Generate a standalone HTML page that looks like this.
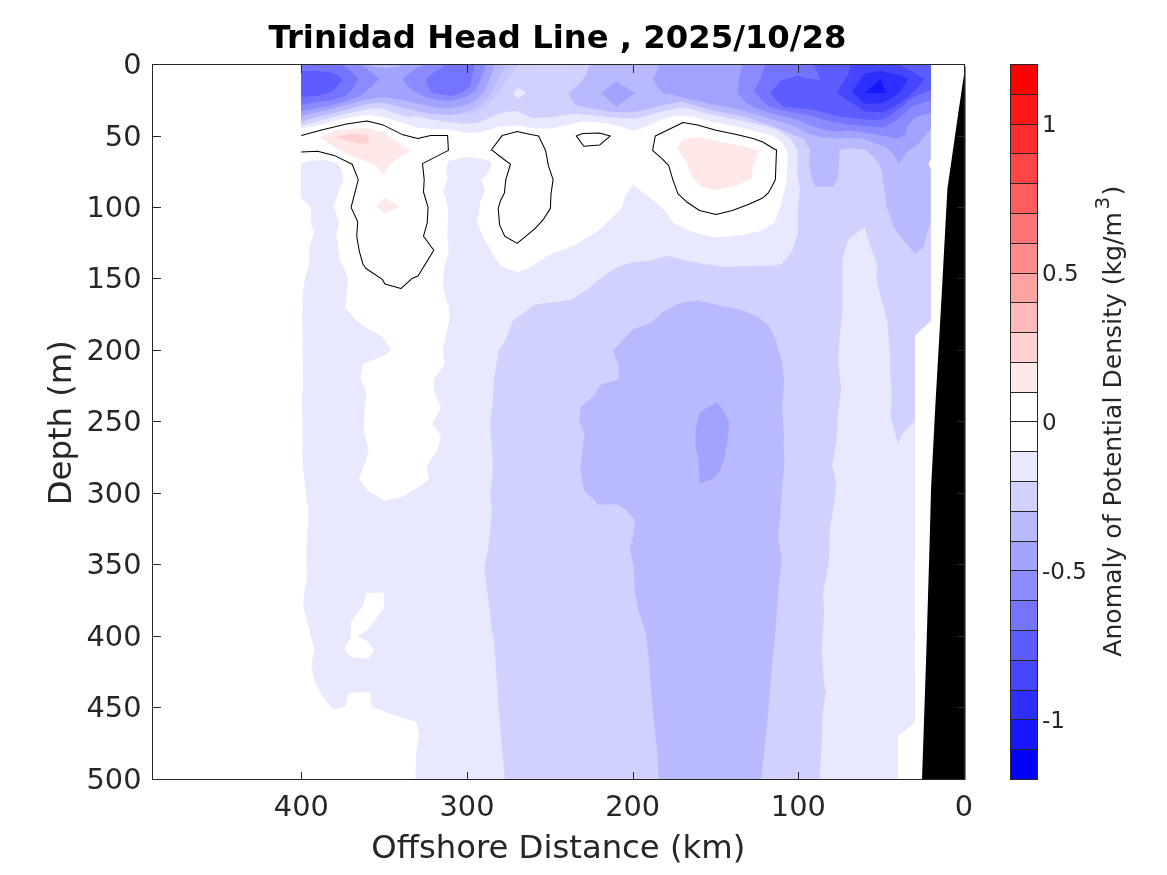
<!DOCTYPE html>
<html lang="en"><head><meta charset="utf-8"><title>Trinidad Head Line , 2025/10/28</title>
<style>html,body{margin:0;padding:0;background:#fff;overflow:hidden}svg{display:block}text{font-family:"DejaVu Sans","Liberation Sans",sans-serif;fill:#262626}</style></head><body>
<svg width="1167" height="875" viewBox="0 0 1167 875">
<rect width="1167" height="875" fill="#fff"/>
<defs><clipPath id="ax"><rect x="152.5" y="64.5" width="812.0" height="715.0"/></clipPath></defs>
<g clip-path="url(#ax)" shape-rendering="geometricPrecision">
<polygon points="301.0,64.0 931.0,64.0 931.0,320.8 915.0,335.7 915.0,722.0 898.0,735.4 898.0,780.0 301.0,780.0" fill="#d1d1ff"/>
<polygon points="301.0,125.8 316.6,121.7 332.0,117.6 347.4,113.5 361.8,110.4 373.0,108.3 383.4,108.8 398.8,114.5 409.1,117.6 416.3,116.0 431.7,119.6 447.1,121.7 462.6,123.8 478.0,122.7 488.3,118.6 498.5,113.5 508.8,111.4 517.1,110.9 524.2,114.5 532.5,118.1 546.8,117.6 559.2,116.0 567.4,114.5 577.7,114.0 588.0,115.0 598.3,116.0 608.5,117.1 618.8,118.1 636.3,118.6 646.6,116.0 662.0,111.4 672.3,109.4 682.6,107.3 692.8,109.4 703.1,112.4 713.4,115.0 728.8,118.1 746.0,121.7 760.0,125.1 776.5,129.3 790.8,138.5 798.0,150.8 798.0,150.8 797.0,171.4 800.1,189.9 798.0,206.4 798.0,233.1 791.9,251.6 781.6,264.0 768.2,266.4 760.0,266.0 775.0,265.0 748.9,266.0 726.3,267.0 703.6,264.0 683.1,259.8 666.6,255.7 650.2,260.9 633.7,261.9 617.3,267.0 602.9,276.3 588.5,288.6 571.0,299.9 535.0,304.4 513.0,320.8 504.8,341.4 498.6,350.7 494.1,378.4 492.4,405.2 490.0,423.7 492.0,446.3 492.8,469.9 492.0,480.6 490.0,492.9 492.0,509.4 488.3,548.4 484.2,566.9 487.3,591.6 490.4,616.3 492.8,639.9 493.5,630.6 495.5,661.4 497.6,692.3 500.7,733.4 504.8,779.7 301.0,780.0" fill="#e8e8ff"/>
<polygon points="864.9,226.9 848.4,239.3 842.3,259.8 842.3,299.9 842.3,310.6 839.2,341.4 838.1,362.0 841.2,388.7 838.1,413.4 836.5,442.2 832.0,464.8 832.0,464.1 836.5,484.7 834.4,501.1 829.9,527.9 828.9,562.8 825.8,579.3 822.7,593.7 824.8,616.3 824.2,610.0 821.7,651.1 823.8,679.9 825.8,692.3 822.7,712.8 821.7,743.7 819.6,779.7 898.0,780.0 898.0,735.4 915.0,722.0 914.9,421.6 901.9,434.0 898.2,444.2 890.6,417.5 891.6,396.9 889.6,351.7 887.5,322.9 883.4,306.5 881.3,299.9 876.2,278.4 877.2,264.0 872.1,251.6 866.9,235.2" fill="#e8e8ff"/>
<polygon points="301.0,128.4 316.6,125.8 332.0,121.7 347.4,118.1 361.8,115.5 370.0,115.0 383.4,117.1 398.8,121.7 409.1,124.8 416.3,127.4 431.7,128.9 447.1,129.4 457.4,131.0 465.6,133.0 478.0,132.5 488.3,129.9 498.5,126.8 508.8,125.8 517.1,125.3 526.3,126.8 536.6,128.4 552.0,128.4 562.3,125.8 572.6,123.8 582.8,121.5 593.1,121.9 603.4,122.7 613.7,124.8 624.0,127.4 633.2,130.4 641.4,128.4 651.7,123.8 662.0,119.6 672.3,116.6 683.6,115.5 692.8,117.1 703.1,119.6 713.4,122.2 728.8,124.8 746.0,128.4 760.0,132.3 772.3,135.4 782.6,142.6 787.8,152.9 786.7,181.7 780.6,206.4 774.4,222.8 760.0,231.1 775.0,224.9 761.2,231.1 740.7,235.2 716.0,237.6 699.5,234.1 687.2,230.0 672.8,222.8 666.6,212.5 658.4,204.3 646.1,195.1 632.7,184.2 625.5,196.1 621.4,208.4 609.0,220.8 596.7,232.1 574.1,245.4 547.3,255.7 535.0,264.0 535.0,264.4 527.4,268.5 517.1,272.2 500.7,266.0 492.4,253.7 484.2,239.3 477.0,222.8 479.1,212.5 480.1,202.3 485.2,189.9 481.1,179.6 486.3,175.5 492.4,164.2 488.3,160.1 467.8,157.0 448.2,161.1 446.2,169.4 447.6,179.6 443.1,192.0 447.2,202.3 448.2,212.5 447.2,235.2 448.8,251.6 444.1,268.1 443.1,284.5 446.2,299.9 449.2,306.5 449.2,320.8 446.2,335.2 442.7,349.6 444.7,364.0 433.8,379.5 433.8,390.8 441.0,407.6 432.4,423.7 441.4,436.4 436.9,450.4 426.6,466.9 429.1,479.5 418.4,486.7 401.9,497.0 384.5,501.1 368.0,490.8 358.8,479.5 366.0,460.0 363.9,469.9 368.6,449.4 363.9,431.9 364.5,409.3 366.6,392.8 360.4,378.8 362.9,364.0 383.4,355.8 391.2,350.1 381.4,336.3 364.9,327.0 354.6,318.8 345.0,307.5 346.4,299.9 348.1,278.4 344.4,268.1 339.2,259.8 337.8,243.4 336.1,235.2 339.2,222.8 336.1,212.5 333.0,206.4 336.1,200.2 339.2,189.9 343.7,179.6 341.3,169.4 337.2,163.2 323.8,160.1 311.5,160.7 301.2,163.2" fill="#fff"/>
<polygon points="301.2,198.1 310.4,206.4 311.5,216.7 310.4,222.8 314.5,232.1 309.4,247.5 308.4,255.7 309.8,264.0 305.3,276.3 303.2,290.7 302.2,310.6 303.2,390.8 301.8,392.8 302.8,434.0 302.2,460.0 305.3,486.7 308.4,513.5 306.3,550.5 307.3,575.2 304.3,591.6 303.2,606.0 307.3,622.5 308.4,626.5 314.5,649.1 311.5,665.5 314.5,679.9 320.7,693.3 327.9,703.6 334.1,709.1 345.4,706.7 348.5,692.7 370.1,692.3 372.1,707.1 391.7,713.9 416.3,722.1 419.4,735.4 416.3,749.8 415.3,779.7 299.0,780.0 299.0,198.0" fill="#fff"/>
<polygon points="366.0,593.3 383.8,592.2 383.8,608.1 376.2,618.4 367.0,630.6 357.7,636.3 367.0,640.8 374.2,650.1 368.0,658.9 350.5,656.9 344.4,649.5 350.5,636.7 351.1,622.3 351.6,620.4 362.9,606.0" fill="#fff"/>
<polygon points="319.7,137.5 336.1,130.3 364.9,127.8 383.4,132.3 397.8,142.6 410.2,150.8 401.9,156.0 389.6,164.2 383.4,175.5 376.2,165.2 362.9,160.1 346.4,153.9 332.0,145.7" fill="#ffe8e8"/>
<polygon points="335.1,136.9 350.5,133.4 368.0,134.8 369.0,143.0 360.8,143.9 346.4,140.6" fill="#ffd1d1"/>
<polygon points="376.2,206.4 384.5,197.7 399.9,206.8 384.5,213.6" fill="#ffe8e8"/>
<polygon points="677.3,148.8 682.7,139.5 699.5,136.9 720.1,141.6 740.7,145.7 759.2,150.8 753.0,167.3 752.0,178.6 736.5,185.4 716.0,190.3 701.6,186.8 692.3,177.6 686.2,161.1" fill="#ffe8e8"/>
<polygon points="512.9,92.9 518.1,87.8 526.8,93.1 518.1,98.6" fill="#e8e8ff"/>
<polygon points="519.0,64.0 512.0,73.0 505.5,82.0 499.0,92.0 492.0,100.5 484.0,107.5 474.0,112.5 462.0,115.5 478.0,107.0 486.2,100.0 491.3,92.0 496.5,82.0 501.6,73.0 506.8,64.0" fill="#c6c6ff"/>
<polygon points="301.0,64.0 301.0,121.7 316.6,117.1 332.0,113.5 347.4,109.4 361.8,105.2 373.0,103.2 383.4,102.7 398.8,106.8 406.0,108.5 416.3,110.8 426.6,113.0 436.8,114.4 449.2,115.0 459.5,114.0 469.8,111.0 478.0,107.0 486.2,100.0 491.3,92.0 496.5,82.0 501.6,73.0 506.8,64.0" fill="#b9b9ff"/>
<polygon points="301.0,64.0 301.0,116.0 316.6,112.4 332.0,108.8 347.4,104.7 361.8,100.6 373.0,98.6 383.4,97.0 398.8,99.5 406.0,101.0 416.3,103.0 426.6,105.5 436.8,107.5 449.2,108.0 459.5,107.0 469.8,103.5 478.0,98.5 484.2,91.0 488.3,81.5 492.4,72.0 494.4,64.0" fill="#a2a2ff"/>
<polygon points="301.0,64.0 359.8,64.0 370.0,71.3 379.3,79.0 368.0,89.8 361.8,95.0 347.4,101.1 332.0,105.2 316.6,108.3 301.0,110.9" fill="#8b8bff"/>
<polygon points="425.5,64.0 416.0,68.2 409.1,73.4 402.9,79.0 408.1,86.7 412.2,89.8 421.4,95.0 431.7,99.1 447.1,101.1 457.4,99.6 467.7,96.0 475.9,89.8 480.0,80.6 484.2,70.3 486.2,64.0" fill="#8b8bff"/>
<polygon points="301.0,64.0 341.2,64.0 351.5,71.3 358.2,79.0 352.6,88.8 345.4,96.0 332.0,100.1 316.6,102.2 301.0,104.7" fill="#7474ff"/>
<polygon points="446.0,64.0 435.8,71.3 425.5,79.5 427.6,84.7 431.2,91.9 441.0,94.4 451.2,96.0 463.6,91.9 470.3,85.7 472.8,73.4 474.9,64.0" fill="#7474ff"/>
<polygon points="368.0,64.0 403.0,64.0 397.0,67.2 385.0,68.6 375.0,67.2" fill="#b9b9ff"/>
<polygon points="301.0,71.3 316.6,70.8 329.9,72.3 337.1,74.9 342.3,79.0 337.1,86.7 331.0,91.9 316.6,96.0 301.0,97.0" fill="#5d5dff"/>
<polygon points="590.0,64.0 587.0,72.3 582.8,80.6 575.6,86.7 568.4,92.9 571.5,99.1 575.6,105.2 588.0,107.8 598.3,109.4 608.5,111.4 618.8,111.9 626.0,112.4 636.3,111.4 646.6,109.4 662.0,105.2 672.3,103.2 682.0,101.6 687.7,103.2 698.0,106.3 713.4,110.4 728.8,113.5 746.0,117.1 756.6,120.6 768.9,124.8 782.3,130.0 793.6,135.0 803.7,138.6 810.1,150.1 808.9,164.3 812.1,178.4 815.3,186.8 833.3,186.8 837.8,178.4 839.1,164.3 839.7,150.1 848.7,148.2 865.4,149.5 873.1,156.6 879.5,164.3 882.1,174.6 884.7,190.0 887.9,211.8 883.4,181.7 886.5,206.4 893.7,226.9 904.0,241.3 915.3,253.7 923.5,247.5 926.6,235.2 930.7,220.8 931.0,64.0" fill="#b9b9ff"/>
<polygon points="659.9,64.0 653.2,79.0 656.8,85.7 663.0,93.4 672.3,94.4 683.6,98.0 698.0,101.1 713.4,104.7 728.8,107.3 739.1,109.4 746.3,111.4 756.6,114.5 768.9,118.6 782.3,122.2 796.0,127.0 808.9,134.1 821.7,137.3 834.6,138.6 847.4,137.9 860.3,138.6 873.1,142.4 886.0,147.6 892.4,152.7 898.8,163.6 906.5,152.7 913.0,147.6 919.4,142.4 924.5,136.0 931.0,128.3 931.0,64.0" fill="#a2a2ff"/>
<polygon points="601.3,92.9 616.3,81.6 635.3,93.1 616.3,106.8" fill="#a2a2ff"/>
<polygon points="742.2,64.0 739.1,78.5 737.6,92.9 741.2,97.0 746.3,103.2 756.6,108.3 768.9,112.4 782.3,116.0 796.0,119.3 808.9,125.1 821.7,128.9 834.6,131.5 847.4,130.8 860.3,131.5 873.1,134.1 886.0,136.6 897.5,138.6 905.3,134.7 907.8,125.7 913.0,119.3 919.4,116.1 931.0,112.9 931.0,64.0" fill="#8b8bff"/>
<polygon points="765.8,64.0 760.7,78.5 754.0,90.8 761.7,100.1 768.9,106.3 782.3,110.4 796.0,112.9 815.3,116.7 834.6,122.5 853.8,125.1 873.1,127.0 883.4,127.6 893.7,121.9 905.3,112.9 911.7,106.4 931.0,100.0 931.0,64.0" fill="#7474ff"/>
<polygon points="770.4,92.9 781.2,80.6 793.6,77.0 797.7,75.4 808.0,78.5 820.3,80.1 817.2,72.3 813.1,64.0 931.0,64.0 931.0,90.0 918.5,95.0 909.1,100.0 905.3,103.9 893.7,112.9 883.4,119.3 873.1,119.9 853.8,118.6 834.6,115.4 815.3,110.3 799.8,108.3 783.3,106.8 776.1,100.1" fill="#5d5dff"/>
<polygon points="836.8,92.9 848.1,74.4 850.7,64.0 898.0,64.0 911.3,71.3 924.7,79.0 916.5,88.8 908.3,97.0 898.0,104.2 883.6,111.9 865.1,111.4 848.6,101.1" fill="#4646ff"/>
<polygon points="852.2,91.9 864.6,73.4 881.5,70.8 898.0,74.4 907.7,79.0 900.0,91.9 891.8,98.0 881.5,103.2 864.6,103.7" fill="#2e2eff"/>
<polygon points="864.6,92.9 881.0,79.0 885.6,92.9" fill="#1717ff"/>
<polygon points="580.2,469.9 584.4,434.0 579.2,421.6 580.7,407.2 594.6,394.9 600.8,384.6 618.3,379.5 618.9,366.1 613.1,350.7 623.4,339.4 633.7,329.1 650.2,322.9 662.5,312.6 679.0,303.4 697.5,300.3 720.1,305.4 740.7,309.5 757.1,316.7 767.4,325.0 775.0,336.3 760.0,318.8 768.2,325.0 775.4,339.4 781.6,359.9 784.3,380.5 782.2,405.2 783.7,434.0 784.3,469.9 782.6,480.6 780.6,511.4 778.1,536.1 781.6,558.7 778.5,587.5 776.5,616.3 774.8,639.9 772.3,661.4 768.2,712.8 764.1,754.0 761.0,779.7 658.4,779.7 657.4,754.0 654.3,725.2 651.2,692.3 649.1,661.4 646.1,634.7 638.9,610.0 641.9,622.5 637.8,608.1 634.7,591.6 633.7,566.9 630.0,548.4 633.7,532.0 634.7,519.6 625.5,509.4 616.2,504.2 598.8,504.8 584.4,490.8 581.3,476.5" fill="#b9b9ff"/>
<polygon points="717.0,402.1 724.2,411.3 729.3,423.7 727.3,442.2 724.2,458.6 723.8,460.0 720.1,470.3 713.9,478.5 699.5,483.7 698.5,460.0 695.4,446.3 695.4,431.9 699.5,412.4" fill="#a2a2ff"/>
<polyline points="301.2,135.4 321.7,129.9 346.4,124.1 367.0,121.0 383.4,125.1 401.9,134.4 417.8,138.5 430.7,135.4 447.6,135.4 448.4,150.4 422.5,163.6 424.2,179.6 423.5,192.0 428.1,207.4 427.2,222.8 423.5,236.2 433.8,250.2 418.0,275.9 412.2,278.4 400.9,288.6 384.9,284.1 382.4,279.4 366.0,268.5 362.9,264.0 359.4,251.6 356.7,236.2 357.7,221.8 351.1,207.4 358.3,179.6 352.2,164.2 334.1,155.4 317.6,151.3 301.2,151.9" fill="none" stroke="#000" stroke-width="1.05" stroke-linejoin="round"/>
<polygon points="491.3,150.0 502.1,135.6 517.1,131.5 526.0,133.5 538.6,135.9 545.7,150.8 548.4,165.7 553.1,179.6 551.0,194.0 550.4,208.4 543.2,219.7 535.0,228.6 517.1,243.4 504.8,236.2 499.6,224.9 498.2,208.4 500.7,200.2 504.4,193.0 505.8,179.6 510.5,164.2 500.7,157.0 492.4,150.4" fill="none" stroke="#000" stroke-width="1.05" stroke-linejoin="round"/>
<polygon points="576.2,135.9 582.8,133.5 599.3,133.0 610.4,135.9 599.5,145.1 583.9,146.2" fill="none" stroke="#000" stroke-width="1.05" stroke-linejoin="round"/>
<polygon points="652.6,150.4 655.3,136.0 683.1,122.5 697.5,125.1 716.0,130.3 736.5,134.4 753.0,138.5 763.3,142.2 774.6,149.2 776.5,149.8 775.4,179.6 772.3,185.8 768.2,193.0 763.7,197.1 760.0,199.2 748.9,204.3 732.4,210.5 716.0,214.6 699.5,210.5 687.2,202.3 677.9,193.6 672.8,179.6 668.7,165.7 662.5,159.1" fill="none" stroke="#000" stroke-width="1.05" stroke-linejoin="round"/>
<polygon points="931.5,158.0 928.6,164.0 931.5,171.0" fill="#fff"/>
</g>
<polygon points="965.5,64.5 965.5,780.0 922.0,780.0 926.4,650.0 929.7,540.0 931.0,490.0 935.1,410.0 941.4,300.0 947.4,189.0 958.0,115.0" fill="#000"/>
<g stroke="#262626" stroke-width="1" fill="none" shape-rendering="crispEdges"><rect x="152.5" y="64.5" width="812.0" height="715.0"/><line x1="964.5" y1="779.5" x2="964.5" y2="771.5"/><line x1="964.5" y1="64.5" x2="964.5" y2="72.5"/><line x1="798.5" y1="779.5" x2="798.5" y2="771.5"/><line x1="798.5" y1="64.5" x2="798.5" y2="72.5"/><line x1="633.5" y1="779.5" x2="633.5" y2="771.5"/><line x1="633.5" y1="64.5" x2="633.5" y2="72.5"/><line x1="467.5" y1="779.5" x2="467.5" y2="771.5"/><line x1="467.5" y1="64.5" x2="467.5" y2="72.5"/><line x1="301.5" y1="779.5" x2="301.5" y2="771.5"/><line x1="301.5" y1="64.5" x2="301.5" y2="72.5"/><line x1="152.5" y1="64.5" x2="160.5" y2="64.5"/><line x1="964.5" y1="64.5" x2="956.5" y2="64.5"/><line x1="152.5" y1="136.5" x2="160.5" y2="136.5"/><line x1="964.5" y1="136.5" x2="956.5" y2="136.5"/><line x1="152.5" y1="207.5" x2="160.5" y2="207.5"/><line x1="964.5" y1="207.5" x2="956.5" y2="207.5"/><line x1="152.5" y1="278.5" x2="160.5" y2="278.5"/><line x1="964.5" y1="278.5" x2="956.5" y2="278.5"/><line x1="152.5" y1="350.5" x2="160.5" y2="350.5"/><line x1="964.5" y1="350.5" x2="956.5" y2="350.5"/><line x1="152.5" y1="421.5" x2="160.5" y2="421.5"/><line x1="964.5" y1="421.5" x2="956.5" y2="421.5"/><line x1="152.5" y1="493.5" x2="160.5" y2="493.5"/><line x1="964.5" y1="493.5" x2="956.5" y2="493.5"/><line x1="152.5" y1="564.5" x2="160.5" y2="564.5"/><line x1="964.5" y1="564.5" x2="956.5" y2="564.5"/><line x1="152.5" y1="636.5" x2="160.5" y2="636.5"/><line x1="964.5" y1="636.5" x2="956.5" y2="636.5"/><line x1="152.5" y1="707.5" x2="160.5" y2="707.5"/><line x1="964.5" y1="707.5" x2="956.5" y2="707.5"/><line x1="152.5" y1="779.5" x2="160.5" y2="779.5"/><line x1="964.5" y1="779.5" x2="956.5" y2="779.5"/></g>
<g font-size="28.8"><text x="964.0" y="816.4" text-anchor="middle">0</text><text x="798.3" y="816.4" text-anchor="middle">100</text><text x="632.7" y="816.4" text-anchor="middle">200</text><text x="467.0" y="816.4" text-anchor="middle">300</text><text x="301.3" y="816.4" text-anchor="middle">400</text><text x="141.5" y="73.9" text-anchor="end">0</text><text x="141.5" y="145.9" text-anchor="end">50</text><text x="141.5" y="216.9" text-anchor="end">100</text><text x="141.5" y="287.9" text-anchor="end">150</text><text x="141.5" y="359.9" text-anchor="end">200</text><text x="141.5" y="430.9" text-anchor="end">250</text><text x="141.5" y="502.9" text-anchor="end">300</text><text x="141.5" y="573.9" text-anchor="end">350</text><text x="141.5" y="645.9" text-anchor="end">400</text><text x="141.5" y="716.9" text-anchor="end">450</text><text x="141.5" y="788.9" text-anchor="end">500</text></g>
<text x="558.3" y="858.3" font-size="32.27" text-anchor="middle">Offshore Distance (km)</text>
<text transform="translate(70.8,422.7) rotate(-90)" font-size="32.27" text-anchor="middle">Depth (m)</text>
<text x="557.5" y="48.3" font-size="32.27" font-weight="bold" text-anchor="middle" style="fill:#000">Trinidad Head Line , 2025/10/28</text>
<g shape-rendering="crispEdges"><rect x="1010.5" y="749.71" width="27.0" height="30.29" fill="#0000ff"/><rect x="1010.5" y="719.92" width="27.0" height="30.29" fill="#1717ff"/><rect x="1010.5" y="690.12" width="27.0" height="30.29" fill="#2e2eff"/><rect x="1010.5" y="660.33" width="27.0" height="30.29" fill="#4646ff"/><rect x="1010.5" y="630.54" width="27.0" height="30.29" fill="#5d5dff"/><rect x="1010.5" y="600.75" width="27.0" height="30.29" fill="#7474ff"/><rect x="1010.5" y="570.96" width="27.0" height="30.29" fill="#8b8bff"/><rect x="1010.5" y="541.17" width="27.0" height="30.29" fill="#a2a2ff"/><rect x="1010.5" y="511.38" width="27.0" height="30.29" fill="#b9b9ff"/><rect x="1010.5" y="481.58" width="27.0" height="30.29" fill="#d1d1ff"/><rect x="1010.5" y="451.79" width="27.0" height="30.29" fill="#e8e8ff"/><rect x="1010.5" y="422.00" width="27.0" height="30.29" fill="#ffffff"/><rect x="1010.5" y="392.21" width="27.0" height="30.29" fill="#ffffff"/><rect x="1010.5" y="362.42" width="27.0" height="30.29" fill="#ffe8e8"/><rect x="1010.5" y="332.62" width="27.0" height="30.29" fill="#ffd1d1"/><rect x="1010.5" y="302.83" width="27.0" height="30.29" fill="#ffb9b9"/><rect x="1010.5" y="273.04" width="27.0" height="30.29" fill="#ffa2a2"/><rect x="1010.5" y="243.25" width="27.0" height="30.29" fill="#ff8b8b"/><rect x="1010.5" y="213.46" width="27.0" height="30.29" fill="#ff7474"/><rect x="1010.5" y="183.67" width="27.0" height="30.29" fill="#ff5d5d"/><rect x="1010.5" y="153.88" width="27.0" height="30.29" fill="#ff4646"/><rect x="1010.5" y="124.08" width="27.0" height="30.29" fill="#ff2e2e"/><rect x="1010.5" y="94.29" width="27.0" height="30.29" fill="#ff1717"/><rect x="1010.5" y="64.50" width="27.0" height="30.29" fill="#ff0000"/></g><g stroke="#262626" stroke-width="1" fill="none" shape-rendering="crispEdges"><line x1="1010.5" y1="749.5" x2="1037.5" y2="749.5"/><line x1="1010.5" y1="719.5" x2="1037.5" y2="719.5"/><line x1="1010.5" y1="690.5" x2="1037.5" y2="690.5"/><line x1="1010.5" y1="660.5" x2="1037.5" y2="660.5"/><line x1="1010.5" y1="630.5" x2="1037.5" y2="630.5"/><line x1="1010.5" y1="600.5" x2="1037.5" y2="600.5"/><line x1="1010.5" y1="570.5" x2="1037.5" y2="570.5"/><line x1="1010.5" y1="541.5" x2="1037.5" y2="541.5"/><line x1="1010.5" y1="511.5" x2="1037.5" y2="511.5"/><line x1="1010.5" y1="481.5" x2="1037.5" y2="481.5"/><line x1="1010.5" y1="451.5" x2="1037.5" y2="451.5"/><line x1="1010.5" y1="421.5" x2="1037.5" y2="421.5"/><line x1="1010.5" y1="392.5" x2="1037.5" y2="392.5"/><line x1="1010.5" y1="362.5" x2="1037.5" y2="362.5"/><line x1="1010.5" y1="332.5" x2="1037.5" y2="332.5"/><line x1="1010.5" y1="302.5" x2="1037.5" y2="302.5"/><line x1="1010.5" y1="273.5" x2="1037.5" y2="273.5"/><line x1="1010.5" y1="243.5" x2="1037.5" y2="243.5"/><line x1="1010.5" y1="213.5" x2="1037.5" y2="213.5"/><line x1="1010.5" y1="183.5" x2="1037.5" y2="183.5"/><line x1="1010.5" y1="153.5" x2="1037.5" y2="153.5"/><line x1="1010.5" y1="124.5" x2="1037.5" y2="124.5"/><line x1="1010.5" y1="94.5" x2="1037.5" y2="94.5"/><rect x="1010.5" y="64.5" width="27.0" height="715.0"/></g>
<g font-size="23"><text x="1042" y="132.1">1</text><text x="1042" y="281.0">0.5</text><text x="1042" y="430.0">0</text><text x="1042" y="579.0">-0.5</text><text x="1042" y="727.9">-1</text></g>
<text transform="translate(1121.3,656.7) rotate(-90)" font-size="25.1">Anomaly of Potential Density (kg/m<tspan dx="2.5" dy="-12.3" font-size="20">3</tspan><tspan dx="1.2" dy="12.3">)</tspan></text>
</svg></body></html>
